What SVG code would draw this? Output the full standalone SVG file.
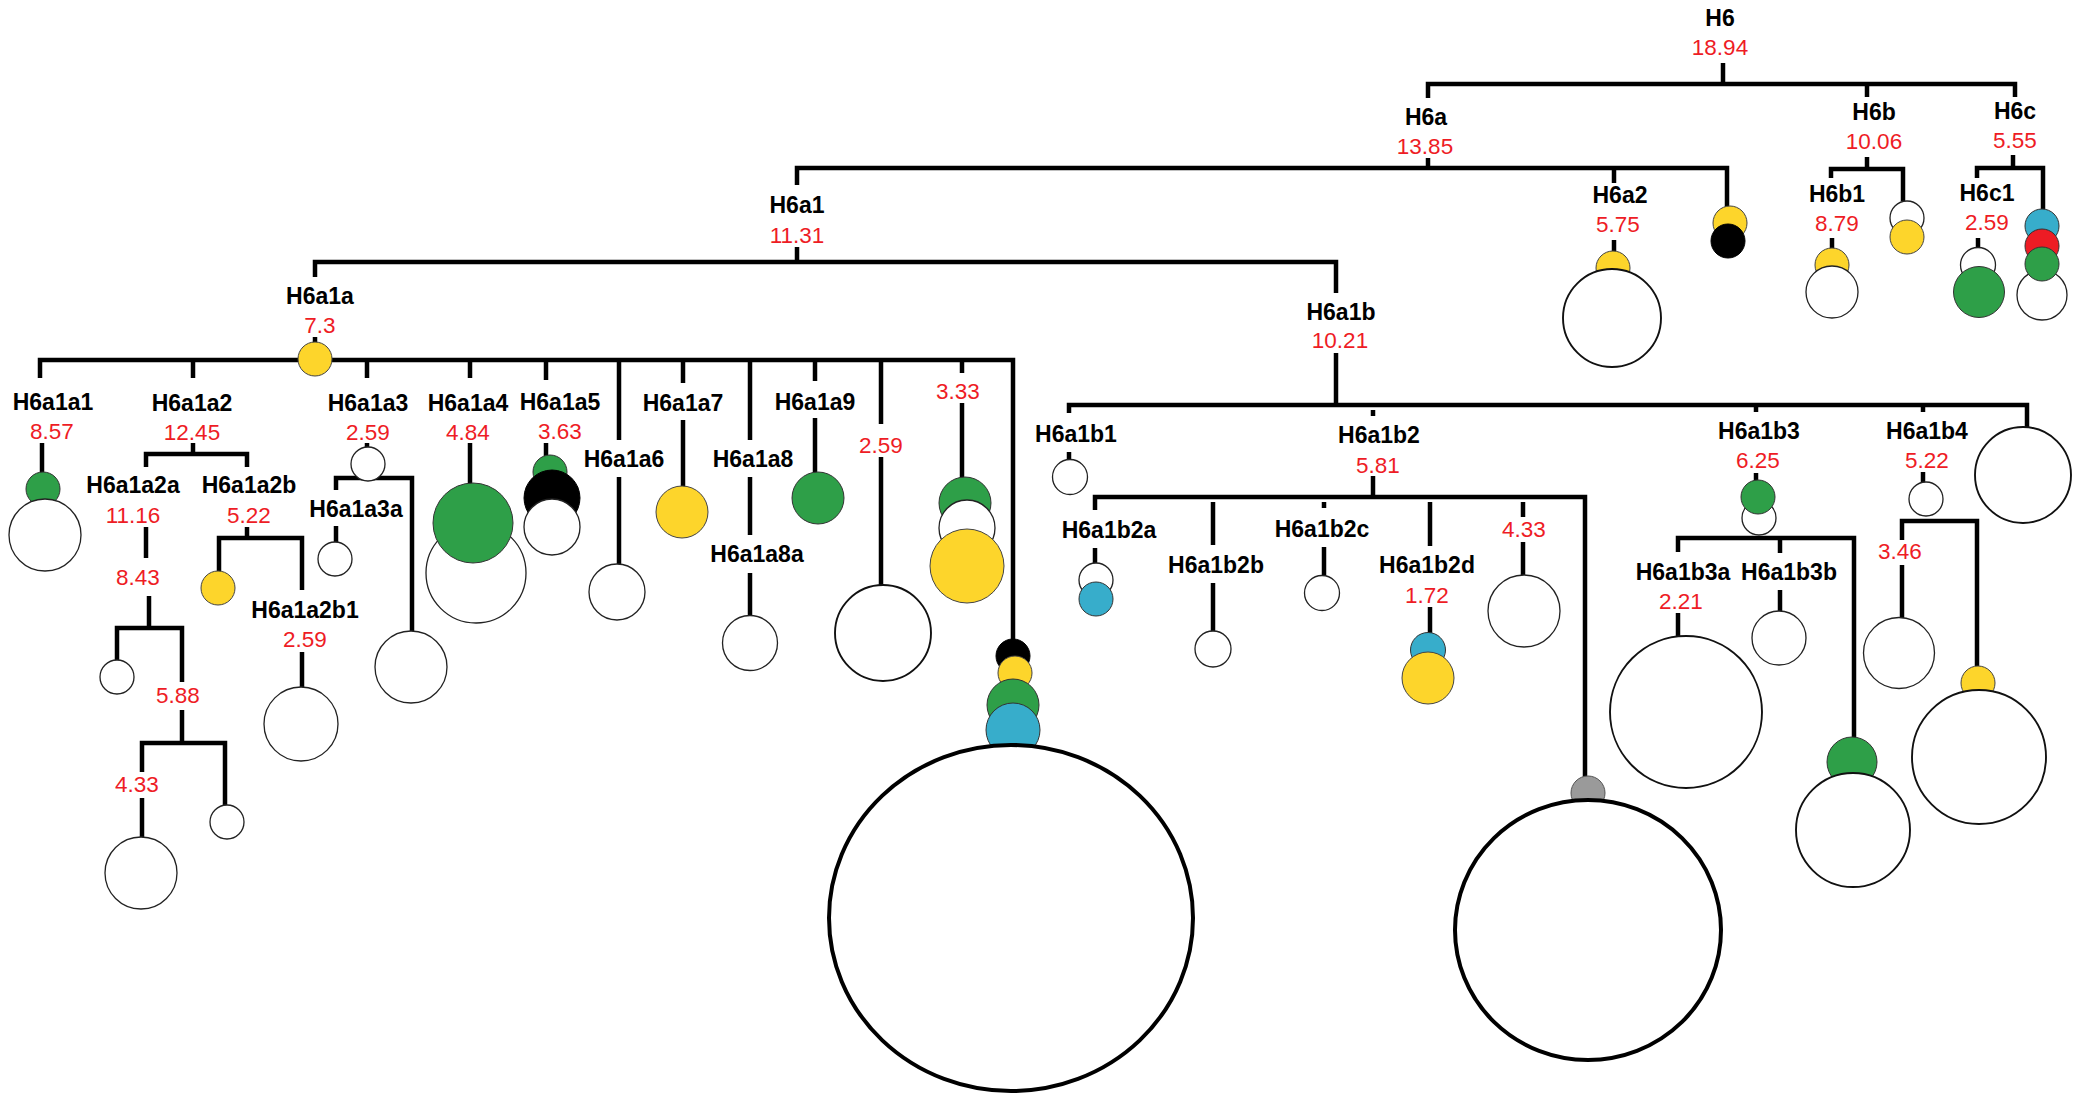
<svg xmlns="http://www.w3.org/2000/svg" width="2093" height="1105" viewBox="0 0 2093 1105">
<style>
.ln{stroke:#000;stroke-width:4.5;fill:none;stroke-linecap:butt;stroke-linejoin:miter}
.lb{font-family:"Liberation Sans",Arial,sans-serif;font-weight:bold;font-size:23px;text-anchor:middle;fill:#000}
.nm{font-family:"Liberation Sans",Arial,sans-serif;font-size:22.5px;text-anchor:middle;fill:#ee1c25}
.w{fill:#fff;stroke:#222;stroke-width:1.3}
.wm{fill:#fff;stroke:#111;stroke-width:1.9}
.wh{fill:#fff;stroke:#000;stroke-width:4}
.y{fill:#fdd52b;stroke:#444;stroke-width:1}
.g{fill:#2e9f48;stroke:#333;stroke-width:1}
.b{fill:#37adcb;stroke:#333;stroke-width:1}
.r{fill:#ed1c24;stroke:#333;stroke-width:1}
.k{fill:#000;stroke:#000;stroke-width:1}
.gr{fill:#9a9a9a;stroke:#555;stroke-width:1}
</style>
<rect width="2093" height="1105" fill="#fff"/>
<g id="connectors">
<path class="ln" d="M1723,63 V84"/>
<path class="ln" d="M1428,98 V84 H2015 V97"/>
<path class="ln" d="M1867,84 V97"/>
<path class="ln" d="M1428,158 V168"/>
<path class="ln" d="M797,185 V168 H1727 V207"/>
<path class="ln" d="M1614,168 V183"/>
<path class="ln" d="M1614,240 V252"/>
<path class="ln" d="M1867,157 V169"/>
<path class="ln" d="M1831,178 V169 H1903 V201"/>
<path class="ln" d="M1832,238 V249"/>
<path class="ln" d="M2013,155 V168"/>
<path class="ln" d="M1977,178 V168 H2043 V210"/>
<path class="ln" d="M1978,238 V248"/>
<path class="ln" d="M797,247 V262"/>
<path class="ln" d="M315,277 V262 H1336 V293"/>
<path class="ln" d="M315,337 V344"/>
<path class="ln" d="M40,378 V360 H1013 V642"/>
<path class="ln" d="M193,360 V378 M367,360 V378 M470,360 V378 M546,360 V380 M619,360 V440 M683,360 V383 M750,360 V440 M815,360 V381 M881,360 V424 M962,360 V373"/>
<path class="ln" d="M42,443 V473"/>
<path class="ln" d="M193,443 V454"/>
<path class="ln" d="M146,467 V454 H247 V467"/>
<path class="ln" d="M146,527 V558"/>
<path class="ln" d="M149,596 V628"/>
<path class="ln" d="M117,662 V628 H182 V682"/>
<path class="ln" d="M182,710 V743"/>
<path class="ln" d="M142,772 V743 H225 V806"/>
<path class="ln" d="M142,798 V838"/>
<path class="ln" d="M247,527 V538"/>
<path class="ln" d="M219,572 V538 H302 V590"/>
<path class="ln" d="M302,652 V688"/>
<path class="ln" d="M367,443 V448"/>
<path class="ln" d="M336,490 V478 H412 V632"/>
<path class="ln" d="M336,526 V543"/>
<path class="ln" d="M470,443 V484"/>
<path class="ln" d="M546,443 V457"/>
<path class="ln" d="M619,477 V565"/>
<path class="ln" d="M683,420 V487"/>
<path class="ln" d="M750,477 V535"/>
<path class="ln" d="M750,573 V616"/>
<path class="ln" d="M815,418 V473"/>
<path class="ln" d="M881,457 V586"/>
<path class="ln" d="M962,403 V478"/>
<path class="ln" d="M1336,353 V405"/>
<path class="ln" d="M1069,413 V405 H2027 V428"/>
<path class="ln" d="M1373,410 V416 M1756,405 V412 M1923,405 V412"/>
<path class="ln" d="M1069,452 V460"/>
<path class="ln" d="M1373,476 V497"/>
<path class="ln" d="M1095,510 V497 H1585 V777"/>
<path class="ln" d="M1213,502 V545 M1324,502 V508 M1430,502 V546 M1523,502 V517"/>
<path class="ln" d="M1095,548 V563"/>
<path class="ln" d="M1213,583 V632"/>
<path class="ln" d="M1324,547 V576"/>
<path class="ln" d="M1430,607 V635"/>
<path class="ln" d="M1523,542 V576"/>
<path class="ln" d="M1756,473 V481"/>
<path class="ln" d="M1678,552 V538 H1854 V738"/>
<path class="ln" d="M1780,538 V553"/>
<path class="ln" d="M1678,613 V637"/>
<path class="ln" d="M1780,590 V612"/>
<path class="ln" d="M1923,472 V483"/>
<path class="ln" d="M1902,540 V521 H1977 V666"/>
<path class="ln" d="M1902,565 V618"/>
</g>
<g id="H6"><text class="lb" x="1720" y="26">H6</text><text class="nm" x="1720" y="55">18.94</text></g>
<g id="H6a"><text class="lb" x="1426" y="125">H6a</text><text class="nm" x="1425" y="154">13.85</text></g>
<g id="H6a2"><text class="lb" x="1620" y="203">H6a2</text><text class="nm" x="1618" y="232">5.75</text>
<circle class="y" cx="1613" cy="268" r="17"/><circle class="wm" cx="1612" cy="318" r="49"/></g>
<g id="H6a-x1"><circle class="y" cx="1730" cy="223" r="17"/><circle class="k" cx="1728" cy="241" r="17"/></g>
<g id="H6b"><text class="lb" x="1874" y="120">H6b</text><text class="nm" x="1874" y="149">10.06</text></g>
<g id="H6b1"><text class="lb" x="1837" y="202">H6b1</text><text class="nm" x="1837" y="231">8.79</text>
<circle class="y" cx="1832" cy="265" r="17"/><circle class="w" cx="1832" cy="292" r="26"/></g>
<g id="H6b-x1"><circle class="w" cx="1907" cy="218" r="17"/><circle class="y" cx="1907" cy="237" r="17"/></g>
<g id="H6c"><text class="lb" x="2015" y="119">H6c</text><text class="nm" x="2015" y="148">5.55</text></g>
<g id="H6c1"><text class="lb" x="1987" y="201">H6c1</text><text class="nm" x="1987" y="230">2.59</text>
<circle class="w" cx="1978" cy="265" r="17.5"/><circle class="g" cx="1979" cy="292" r="25.5"/></g>
<g id="H6c-x1"><circle class="w" cx="2042" cy="295" r="25"/><circle class="b" cx="2042" cy="226" r="17"/><circle class="r" cx="2042" cy="246" r="17"/><circle class="g" cx="2042" cy="264" r="17"/></g>
<g id="H6a1"><text class="lb" x="797" y="213">H6a1</text><text class="nm" x="797" y="243">11.31</text></g>
<g id="H6a1a"><text class="lb" x="320" y="304">H6a1a</text><text class="nm" x="320" y="333">7.3</text>
<circle class="y" cx="315" cy="359" r="17"/></g>
<g id="H6a1a1"><text class="lb" x="53" y="410">H6a1a1</text><text class="nm" x="52" y="439">8.57</text>
<circle class="g" cx="43" cy="489" r="17"/><circle class="w" cx="45" cy="535" r="36"/></g>
<g id="H6a1a2"><text class="lb" x="192" y="411">H6a1a2</text><text class="nm" x="192" y="440">12.45</text></g>
<g id="H6a1a2a"><text class="lb" x="133" y="493">H6a1a2a</text><text class="nm" x="133" y="523">11.16</text>
<text class="nm" x="138" y="585">8.43</text><circle class="w" cx="117" cy="677" r="17"/>
<text class="nm" x="178" y="703">5.88</text><text class="nm" x="137" y="792">4.33</text>
<circle class="w" cx="141" cy="873" r="36"/><circle class="w" cx="227" cy="822" r="17"/></g>
<g id="H6a1a2b"><text class="lb" x="249" y="493">H6a1a2b</text><text class="nm" x="249" y="523">5.22</text>
<circle class="y" cx="218" cy="588" r="17"/></g>
<g id="H6a1a2b1"><text class="lb" x="305" y="618">H6a1a2b1</text><text class="nm" x="305" y="647">2.59</text>
<circle class="w" cx="301" cy="724" r="37"/></g>
<g id="H6a1a3"><text class="lb" x="368" y="411">H6a1a3</text><text class="nm" x="368" y="440">2.59</text>
<circle class="w" cx="368" cy="464" r="17"/><circle class="w" cx="411" cy="667" r="36"/></g>
<g id="H6a1a3a"><text class="lb" x="356" y="517">H6a1a3a</text><circle class="w" cx="335" cy="559" r="17"/></g>
<g id="H6a1a4"><text class="lb" x="468" y="411">H6a1a4</text><text class="nm" x="468" y="440">4.84</text>
<circle class="w" cx="476" cy="573" r="50"/><circle class="g" cx="473" cy="523" r="40"/></g>
<g id="H6a1a5"><text class="lb" x="560" y="410">H6a1a5</text><text class="nm" x="560" y="439">3.63</text>
<circle class="g" cx="550" cy="472" r="17"/><circle class="k" cx="552" cy="498" r="28"/><circle class="w" cx="552" cy="527" r="28"/></g>
<g id="H6a1a6"><text class="lb" x="624" y="467">H6a1a6</text><circle class="w" cx="617" cy="592" r="28"/></g>
<g id="H6a1a7"><text class="lb" x="683" y="411">H6a1a7</text><circle class="y" cx="682" cy="512" r="26"/></g>
<g id="H6a1a8"><text class="lb" x="753" y="467">H6a1a8</text></g>
<g id="H6a1a8a"><text class="lb" x="757" y="562">H6a1a8a</text><circle class="w" cx="750" cy="643" r="27.5"/></g>
<g id="H6a1a9"><text class="lb" x="815" y="410">H6a1a9</text><circle class="g" cx="818" cy="498" r="26"/></g>
<g id="H6a1a-x1"><text class="nm" x="881" y="453">2.59</text><circle class="wm" cx="883" cy="633" r="48"/></g>
<g id="H6a1a-x2"><text class="nm" x="958" y="399">3.33</text>
<circle class="g" cx="965" cy="503" r="26"/><circle class="w" cx="967" cy="528" r="28"/><circle class="y" cx="967" cy="566" r="37"/></g>
<g id="H6a1a-x3"><circle class="k" cx="1013" cy="656" r="17"/><circle class="y" cx="1015" cy="673" r="17"/><circle class="g" cx="1013" cy="705" r="26"/><circle class="b" cx="1013" cy="730" r="27"/>
<ellipse class="wh" cx="1011" cy="918" rx="182" ry="173"/></g>
<g id="H6a1b"><text class="lb" x="1341" y="320">H6a1b</text><text class="nm" x="1340" y="348">10.21</text></g>
<g id="H6a1b1"><text class="lb" x="1076" y="442">H6a1b1</text><circle class="w" cx="1070" cy="477" r="17.5"/></g>
<g id="H6a1b2"><text class="lb" x="1379" y="443">H6a1b2</text><text class="nm" x="1378" y="473">5.81</text></g>
<g id="H6a1b2a"><text class="lb" x="1109" y="538">H6a1b2a</text><circle class="w" cx="1096" cy="580" r="17"/><circle class="b" cx="1096" cy="599" r="17"/></g>
<g id="H6a1b2b"><text class="lb" x="1216" y="573">H6a1b2b</text><circle class="w" cx="1213" cy="649" r="18"/></g>
<g id="H6a1b2c"><text class="lb" x="1322" y="537">H6a1b2c</text><circle class="w" cx="1322" cy="593" r="17.5"/></g>
<g id="H6a1b2d"><text class="lb" x="1427" y="573">H6a1b2d</text><text class="nm" x="1427" y="603">1.72</text>
<circle class="b" cx="1428" cy="650" r="17.5"/><circle class="y" cx="1428" cy="678" r="26"/></g>
<g id="H6a1b2-x1"><text class="nm" x="1524" y="537">4.33</text><circle class="w" cx="1524" cy="611" r="36"/></g>
<g id="H6a1b2-x2"><circle class="gr" cx="1588" cy="793" r="17"/><ellipse class="wh" cx="1588" cy="930" rx="133" ry="130"/></g>
<g id="H6a1b3"><text class="lb" x="1759" y="439">H6a1b3</text><text class="nm" x="1758" y="468">6.25</text>
<circle class="w" cx="1759" cy="518" r="17"/><circle class="g" cx="1758" cy="497" r="17"/></g>
<g id="H6a1b3a"><text class="lb" x="1683" y="580">H6a1b3a</text><text class="nm" x="1681" y="609">2.21</text><circle class="wm" cx="1686" cy="712" r="76"/></g>
<g id="H6a1b3b"><text class="lb" x="1789" y="580">H6a1b3b</text><circle class="w" cx="1779" cy="638" r="27"/></g>
<g id="H6a1b3-x1"><circle class="g" cx="1852" cy="762" r="25"/><circle class="wm" cx="1853" cy="830" r="57"/></g>
<g id="H6a1b4"><text class="lb" x="1927" y="439">H6a1b4</text><text class="nm" x="1927" y="468">5.22</text><circle class="w" cx="1926" cy="499" r="17"/></g>
<g id="H6a1b4-x1"><text class="nm" x="1900" y="559">3.46</text><circle class="w" cx="1899" cy="653" r="35.5"/></g>
<g id="H6a1b4-x2"><circle class="y" cx="1978" cy="683" r="17"/><circle class="wm" cx="1979" cy="757" r="67"/></g>
<g id="H6a1b-x1"><circle class="wm" cx="2023" cy="475" r="48"/></g>
</svg>
